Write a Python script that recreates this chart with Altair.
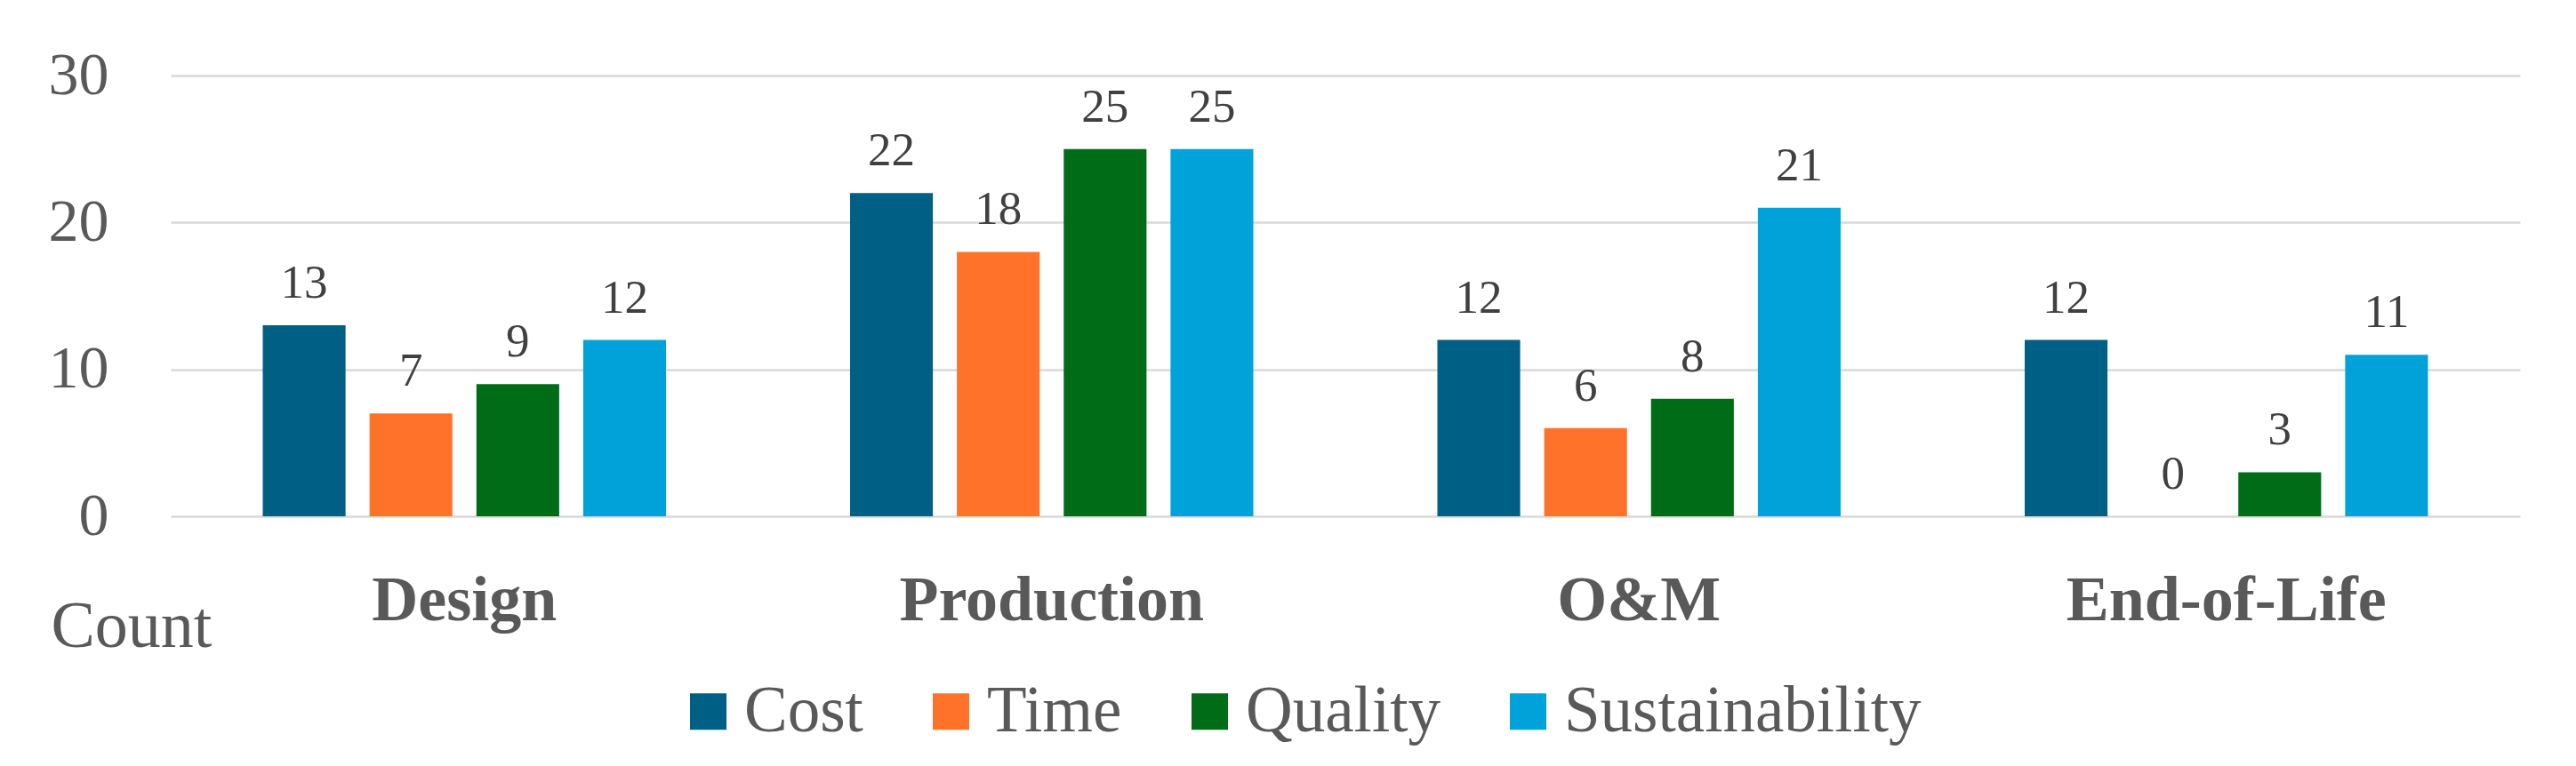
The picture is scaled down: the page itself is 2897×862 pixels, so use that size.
import altair as alt
import pandas as pd

phases = ["Design", "Production", "O&M", "End-of-Life"]
criteria = ["Cost", "Time", "Quality", "Sustainability"]
cost = [13, 22, 12, 12]
time_ = [7, 18, 6, 0]
quality = [9, 25, 8, 3]
sustainability = [12, 25, 21, 11]
colors = ["#005F85", "#FF7229", "#006C18", "#00A2DA"]
y_ticks = [0, 10, 20, 30]

rows = []
for name, vals in zip(criteria, [cost, time_, quality, sustainability]):
    for p, v in zip(phases, vals):
        rows.append({"Phase": p, "Criterion": name, "Count": v})
df = pd.DataFrame(rows)

FONT = "Liberation Serif"
GRAY = "#595959"

base = alt.Chart(df).encode(
    x=alt.X(
        "Phase:N", sort=phases,
        scale=alt.Scale(paddingInner=0.3134, paddingOuter=0.1567),
        axis=alt.Axis(title=None, labelFont=FONT, labelFontSize=72, labelFontWeight="bold",
                      labelColor=GRAY, labelBaseline="alphabetic", labelPadding=116,
                      labelLimit=0, ticks=False, domain=False, grid=False, labelAngle=0),
    ),
    xOffset=alt.XOffset("Criterion:N", sort=criteria,
                        scale=alt.Scale(paddingInner=0.225, paddingOuter=0)),
    y=alt.Y(
        "Count:Q",
        scale=alt.Scale(domain=[0, 30], nice=False),
        axis=alt.Axis(values=y_ticks, title="Count", titleAngle=0, titleX=-135, titleY=642,
                      titleAlign="left", titleBaseline="alphabetic", titleFont=FONT,
                      titleFontSize=74, titleFontWeight="normal", titleColor=GRAY,
                      labelFont=FONT, labelFontSize=68, labelColor=GRAY, labelPadding=70,
                      labelLimit=0, ticks=False, domain=False, grid=True,
                      gridColor="#D9D9D9", gridWidth=2.5),
    ),
)

bars = base.mark_bar().encode(
    color=alt.Color(
        "Criterion:N", sort=criteria,
        scale=alt.Scale(domain=criteria, range=colors),
        legend=alt.Legend(title=None, orient="none", legendX=568, legendY=679,
                          direction="horizontal", symbolType="square", symbolSize=1681,
                          symbolStrokeWidth=0, symbolOpacity=1, labelFont=FONT, labelFontSize=73,
                          labelColor=GRAY, labelOffset=4, columnPadding=62, padding=0,
                          labelLimit=0),
    )
)

labels = base.mark_text(baseline="alphabetic", dy=-31, font=FONT, fontSize=53,
                        color="#404040").encode(text="Count:Q")

chart = (bars + labels).properties(
    width=2642, height=496,
    autosize=alt.AutoSizeParams(type="none"),
    padding={"left": 184, "top": 77, "right": 55, "bottom": 273},
).configure_view(stroke=None)

chart.save("out.html", embed_options={"renderer": "svg", "actions": False})
